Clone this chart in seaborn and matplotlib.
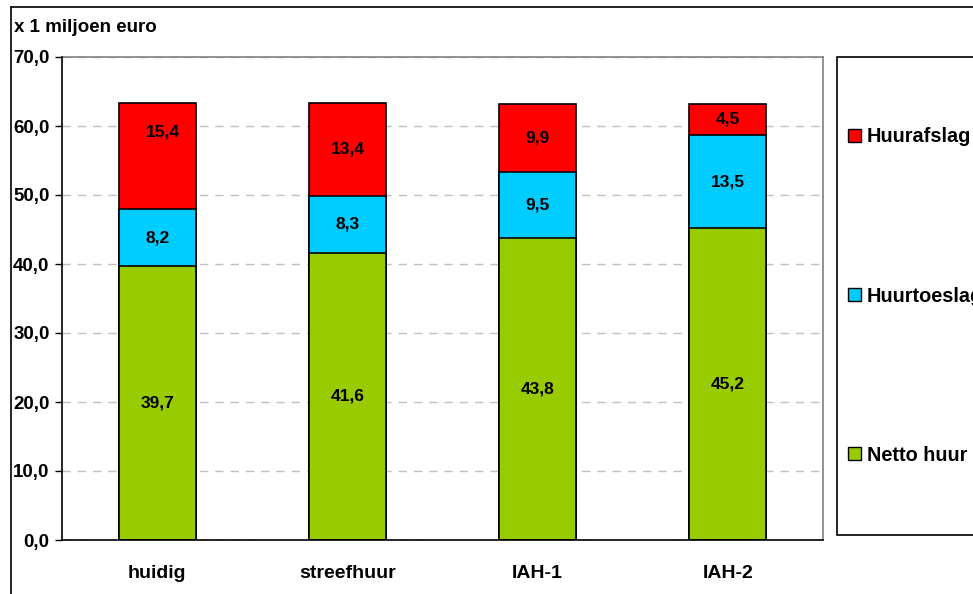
import matplotlib.pyplot as plt
import seaborn as sns
import pandas as pd
import numpy as np
from matplotlib.patches import Rectangle, Patch
from matplotlib.lines import Line2D

# Data (x 1 miljoen euro)
categories = ['huidig', 'streefhuur', 'IAH-1', 'IAH-2']
netto_huur = [39.7, 41.6, 43.8, 45.2]
huurtoeslag = [8.2, 8.3, 9.5, 13.5]
huurafslag = [15.4, 13.4, 9.9, 4.5]

series_names = ['Netto huur', 'Huurtoeslag', 'Huurafslag']
series_colors = ['#99CC00', '#00CCFF', '#FF0000']

sns.set_style('white')
plt.rcParams['font.family'] = ['Liberation Sans', 'DejaVu Sans']
plt.rcParams['font.weight'] = 'bold'
plt.rcParams['text.color'] = 'black'
plt.rcParams['xtick.color'] = 'black'
plt.rcParams['ytick.color'] = 'black'
plt.rcParams['xtick.labelcolor'] = 'black'
plt.rcParams['ytick.labelcolor'] = 'black'

df = pd.DataFrame({'categorie': categories,
                   'Netto huur': netto_huur,
                   'Huurtoeslag': huurtoeslag,
                   'Huurafslag': huurafslag})
df['cum1'] = df['Netto huur']
df['cum2'] = df['cum1'] + df['Huurtoeslag']
df['cum3'] = df['cum2'] + df['Huurafslag']

fig = plt.figure(figsize=(9.73, 5.94), dpi=100)
ax = fig.add_axes([62 / 973, 54 / 594, (823 - 62) / 973, (540 - 57) / 594])

# stacked bars: draw the cumulative totals, tallest first
for col, color in zip(['cum3', 'cum2', 'cum1'], series_colors[::-1]):
    sns.barplot(data=df, x='categorie', y=col, color=color, width=0.405,
                edgecolor='black', linewidth=1.2, saturation=1, ax=ax, zorder=3)

# value labels in the middle of each segment
bottoms = np.zeros(len(categories))
for name in series_names:
    vals = np.array(df[name])
    for i, v in enumerate(vals):
        y = bottoms[i] + v / 2
        x = i
        if name == 'Huurafslag' and i == 0:
            x, y = i + 0.03, y + 3.6  # label was nudged in the original
        ax.text(x, y, f'{v:.1f}'.replace('.', ','), ha='center', va='center',
                fontsize=12.5, fontweight='bold', color='black', zorder=5)
    bottoms += vals

ax.set_ylim(0, 70)
ax.set_xlim(-0.5, 3.5)
yt = np.arange(0, 71, 10)
ax.set_yticks(yt)
ax.set_yticklabels([f'{t:.1f}'.replace('.', ',') for t in yt], fontsize=13.5, fontweight='bold')
ax.set_xticks(range(len(categories)))
ax.set_xticklabels(categories, fontsize=14, fontweight='bold')
ax.set_xticks(np.arange(-0.5, 4, 1), minor=True)
ax.tick_params(axis='x', which='major', length=0, pad=18)
ax.tick_params(axis='x', which='minor', length=6, width=1, color='#808080')
ax.tick_params(axis='y', length=5, width=1, color='black', left=True, pad=4)
ax.set_xlabel('')
ax.set_ylabel('')

ax.grid(axis='y', color='#C0C0C0', linestyle=(0, (6, 5)), linewidth=1, zorder=0)
ax.set_axisbelow(True)
for side in ['left', 'bottom']:
    ax.spines[side].set_color('black')
    ax.spines[side].set_linewidth(1.2)
for side in ['top', 'right']:
    ax.spines[side].set_color('#808080')
    ax.spines[side].set_linewidth(1.2)
ax.spines['left'].set_zorder(6)
ax.spines['bottom'].set_zorder(6)

fig.text(14 / 973, 1 - 27 / 594, 'x 1 miljoen euro', fontsize=13.5,
         fontweight='bold', va='center', ha='left')

# outer chart border (top and left visible)
fig.add_artist(Line2D([11 / 973, 11 / 973], [0, 1 - 7 / 594], color='black', linewidth=1.2))
fig.add_artist(Line2D([11 / 973, 1], [1 - 7 / 594, 1 - 7 / 594], color='black', linewidth=1.2))

# legend box
fig.add_artist(Rectangle((837 / 973, 1 - 535 / 594), 0.2, (535 - 57) / 594,
                         transform=fig.transFigure, facecolor='white',
                         edgecolor='black', linewidth=1.2))
handles = [Patch(facecolor=c, edgecolor='black', linewidth=1) for c in series_colors[::-1]]
fig.legend(handles, series_names[::-1], loc='upper left',
           bbox_to_anchor=(848 / 973, 1 - 127.5 / 594), frameon=False,
           prop={'size': 14.3, 'weight': 'bold'}, handlelength=0.65, handleheight=0.65,
           handletextpad=0.3, labelspacing=7.05, borderaxespad=0, borderpad=0)

plt.savefig('out.png', dpi=100)
